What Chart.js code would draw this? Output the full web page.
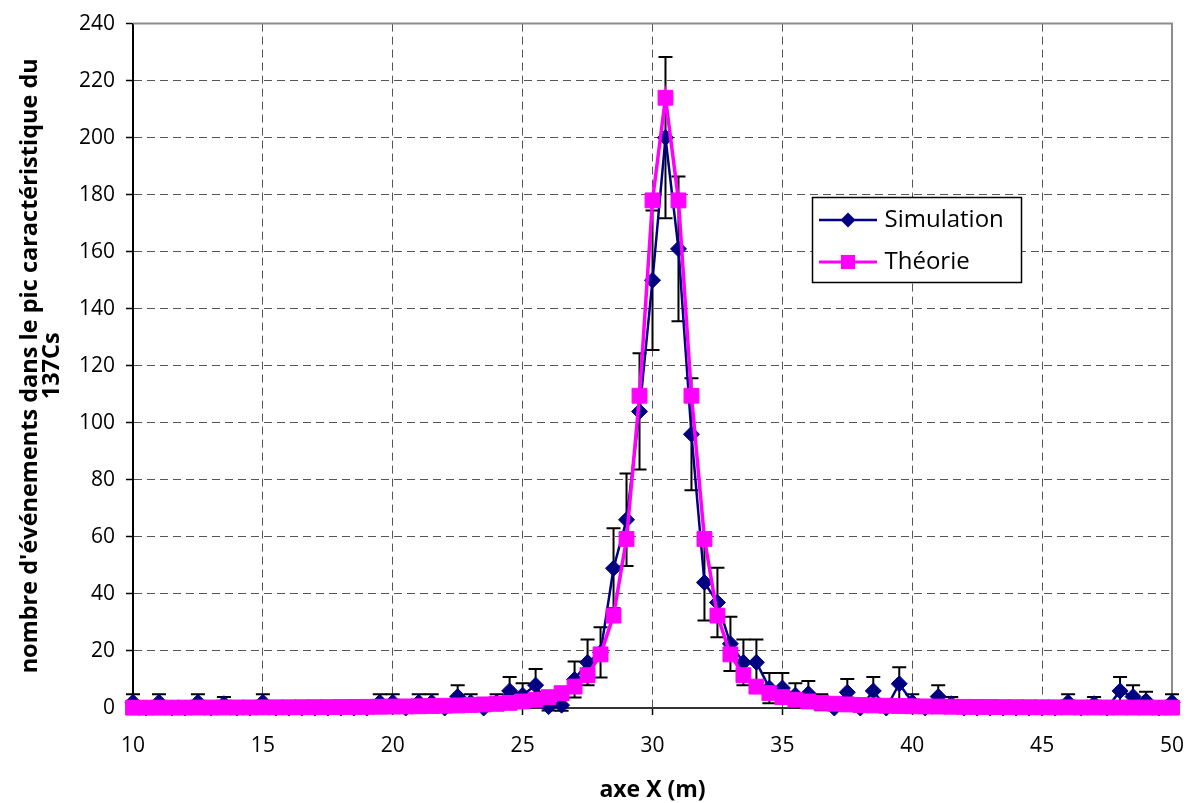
<!DOCTYPE html>
<html>
<head>
<meta charset="utf-8">
<script src="https://cdn.jsdelivr.net/npm/chart.js@4.4.1/dist/chart.umd.min.js"></script>
<style>
    html, body { margin: 0; padding: 0; background: #fff; }
    #wrap { width: 1190px; height: 803px; }
</style>
</head>
<body>
<div id="wrap"><canvas id="profil-chart" width="1190" height="803"></canvas></div>
<script>
// position le long de l'axe X (m)
const positions = [
    10, 10.5, 11, 11.5, 12, 12.5, 13, 13.5, 14, 14.5,
    15, 15.5, 16, 16.5, 17, 17.5, 18, 18.5, 19, 19.5,
    20, 20.5, 21, 21.5, 22, 22.5, 23, 23.5, 24, 24.5,
    25, 25.5, 26, 26.5, 27, 27.5, 28, 28.5, 29, 29.5,
    30, 30.5, 31,
    31.5, 32, 32.5, 33, 33.5, 34, 34.5, 35, 35.5, 36,
    36.5, 37, 37.5, 38, 38.5, 39, 39.5, 40, 40.5, 41,
    41.5, 42, 42.5, 43, 43.5, 44, 44.5, 45, 45.5, 46,
    46.5, 47, 47.5, 48, 48.5, 49, 49.5, 50
];

const simulation = [
    2, 0, 2, 0, 0, 2, 0, 1.5, 0, 0,
    2, 0, 0, 0, 0, 0, 0, 0, 0, 2,
    2, 0, 2, 2, 0, 4, 2, 0, 2, 6,
    4.5, 8, 0.5, 1, 10, 16, 19.5, 49, 66, 104,
    150, 200, 161,
    96, 44, 37, 22.5, 16, 16, 7, 7, 4.5, 5,
    2, 0, 5.5, 0, 6, 0, 8.5, 2, 0, 4,
    1.5, 0, 0, 0, 0, 0, 0, 0, 0, 2,
    0, 1.5, 0, 6, 4, 2.5, 0, 2
];

// barres d'erreur de la simulation (demi-largeur)
const simulationErr = [
    2.8, 0, 2.8, 0, 0, 2.8, 0, 2.4, 0, 0,
    2.8, 0, 0, 0, 0, 0, 0, 0, 0, 2.8,
    2.8, 0, 2.8, 2.8, 0, 4, 2.8, 0, 2.8, 4.9,
    4.2, 5.7, 1.4, 2, 6.3, 8, 8.8, 14, 16.2, 20.4,
    24.5, 28.3, 25.4,
    19.6, 13.3, 12.2, 9.5, 8, 8, 5.3, 5.3, 4.2, 4.5,
    2.8, 0, 4.7, 0, 4.9, 0, 5.8, 2.8, 0, 4,
    2.4, 0, 0, 0, 0, 0, 0, 0, 0, 2.8,
    0, 2.4, 0, 4.9, 4, 3.2, 0, 2.8
];

const theorie = [
    0.12, 0.12, 0.13, 0.14, 0.15, 0.16, 0.17, 0.18, 0.19, 0.2,
    0.22, 0.23, 0.25, 0.27, 0.29, 0.31, 0.34, 0.37, 0.4, 0.45,
    0.5, 0.55, 0.6, 0.7, 0.8, 0.9, 1.05, 1.25, 1.5, 1.8,
    2.3, 2.9, 3.8, 5.2, 7.5, 11.5, 18.8, 32.4, 59.3, 109.5,
    178, 214, 178,
    109.5, 59.3, 32.4, 18.8, 11.5, 7.5, 5.2, 3.8, 2.9, 2.3,
    1.8, 1.5, 1.25, 1.05, 0.9, 0.8, 0.7, 0.6, 0.55, 0.5,
    0.45, 0.4, 0.37, 0.34, 0.31, 0.29, 0.27, 0.25, 0.23, 0.22,
    0.2, 0.19, 0.18, 0.17, 0.16, 0.15, 0.14, 0.13
];

const xTicks = [10, 15, 20, 25, 30, 35, 40, 45, 50];
const yTicks = [0, 20, 40, 60, 80, 100, 120, 140, 160, 180, 200, 220, 240];

const NAVY = '#000080';
const MAGENTA = '#ff00ff';
const FONT = "'Open Sans', 'Noto Sans', sans-serif";

// petite icone ligne + marqueur pour la legende
function legendIcon(color, lineWidth, pointStyle, radius) {
    const c = document.createElement('canvas');
    c.width = 58;
    c.height = 22;
    const g = c.getContext('2d');
    g.strokeStyle = color;
    g.lineWidth = lineWidth;
    g.beginPath();
    g.moveTo(0, 11);
    g.lineTo(58, 11);
    g.stroke();
    g.fillStyle = color;
    Chart.helpers.drawPoint(g, { pointStyle, radius, borderWidth: 0, rotation: 0 }, 29, 11);
    return c;
}
const legendIcons = [
    legendIcon(NAVY, 2.5, 'rectRot', 7.5),
    legendIcon(MAGENTA, 3, 'rect', 10)
];

const plotFrame = {
    id: 'plotFrame',
    beforeDatasetsDraw(chart) {
        const { ctx, chartArea: a } = chart;
        ctx.save();
        ctx.strokeStyle = '#8c8c8c';
        ctx.lineWidth = 2;
        ctx.beginPath();
        ctx.moveTo(a.left, a.top);
        ctx.lineTo(a.right, a.top);
        ctx.lineTo(a.right, a.bottom);
        ctx.stroke();
        ctx.restore();
    }
};

const errorBars = {
    id: 'errorBars',
    beforeDatasetsDraw(chart) {
        const { ctx } = chart;
        const xs = chart.scales.x;
        const ys = chart.scales.y;
        ctx.save();
        ctx.strokeStyle = '#000';
        ctx.lineWidth = 2;
        positions.forEach((pos, i) => {
            const err = simulationErr[i];
            if (!err) return;
            const px = xs.getPixelForValue(pos);
            const top = ys.getPixelForValue(simulation[i] + err);
            const bottom = ys.getPixelForValue(simulation[i] - err);
            ctx.beginPath();
            ctx.moveTo(px, top);
            ctx.lineTo(px, bottom);
            ctx.moveTo(px - 7, top);
            ctx.lineTo(px + 7, top);
            ctx.moveTo(px - 7, bottom);
            ctx.lineTo(px + 7, bottom);
            ctx.stroke();
        });
        ctx.restore();
    }
};

// cadre blanc de la legende, place dans la zone du graphe
const LEGEND_BOX = { left: 812, top: 197, width: 209, height: 85 };
const legendBox = {
    id: 'legendBox',
    afterLayout(chart) {
        const lg = chart.legend;
        lg.left = 805.5;
        lg.top = 190;
        lg.right = lg.left + 215;
        lg.bottom = lg.top + 140;
        lg.width = 215;
        lg.height = 140;
    },
    afterDraw(chart) {
        const { ctx } = chart;
        const b = LEGEND_BOX;
        ctx.save();
        ctx.fillStyle = '#fff';
        ctx.fillRect(b.left, b.top, b.width, b.height);
        ctx.strokeStyle = '#000';
        ctx.lineWidth = 1.5;
        ctx.strokeRect(b.left + 0.5, b.top + 0.5, b.width, b.height);
        ctx.restore();
        chart.legend.draw();
    }
};

function edgeGrid(first, last) {
    return (c) => (c.tick && (c.tick.value === first || c.tick.value === last)) ? 'rgba(0,0,0,0)' : '#555';
}

new Chart(document.getElementById('profil-chart'), {
    type: 'line',
    data: {
        datasets: [
            {
                label: 'Simulation',
                data: positions.map((x, i) => ({ x, y: simulation[i] })),
                borderColor: NAVY,
                backgroundColor: NAVY,
                borderWidth: 2.5,
                pointStyle: 'rectRot',
                pointRadius: 8,
                pointBorderWidth: 1,
                pointHoverRadius: 8,
                tension: 0,
                clip: false,
                order: 1
            },
            {
                label: 'Théorie',
                data: positions.map((x, i) => ({ x, y: theorie[i] })),
                borderColor: MAGENTA,
                backgroundColor: MAGENTA,
                borderWidth: 3.5,
                pointStyle: 'rect',
                pointRadius: 10.5,
                pointBorderWidth: 1,
                pointHoverRadius: 10.5,
                tension: 0,
                clip: false,
                order: 0
            }
        ]
    },
    options: {
        responsive: false,
        animation: false,
        devicePixelRatio: 1,
        layout: { padding: { top: 21, right: 18, left: 0, bottom: 0 } },
        plugins: {
            tooltip: { enabled: false },
            legend: {
                position: 'chartArea',
                align: 'start',
                labels: {
                    usePointStyle: true,
                    pointStyleWidth: 49,
                    padding: 18,
                    color: '#000',
                    font: { family: FONT, size: 24 },
                    sort: (a, b) => a.datasetIndex - b.datasetIndex,
                    generateLabels(chart) {
                        const items = Chart.defaults.plugins.legend.labels.generateLabels(chart);
                        items.forEach((it) => { it.pointStyle = legendIcons[it.datasetIndex]; });
                        return items;
                    }
                }
            }
        },
        scales: {
            x: {
                type: 'linear',
                min: 10,
                max: 50,
                afterBuildTicks: (s) => { s.ticks = xTicks.map((v) => ({ value: v })); },
                afterFit: (s) => {
                    s.height = 95;
                    // le décalage des libellés ne doit pas rétrécir la zone du graphe
                    s.paddingLeft = 0;
                    s.paddingRight = 12;
                },
                ticks: { color: '#000', padding: 18, font: { family: FONT, size: 21 } },
                grid: { color: edgeGrid(10, 50), tickColor: '#000', tickLength: 7, lineWidth: 1, tickWidth: 1.5 },
                border: { color: '#333', width: 2, dash: [8, 5] },
                title: {
                    display: true,
                    text: 'axe X (m)',
                    color: '#000',
                    padding: { top: 0, bottom: -1 },
                    font: { family: FONT, size: 23, weight: 'bold' }
                }
            },
            y: {
                min: 0,
                max: 240,
                afterBuildTicks: (s) => { s.ticks = yTicks.map((v) => ({ value: v })); },
                afterFit: (s) => { s.width = 133; },
                ticks: { color: '#000', padding: 11, font: { family: FONT, size: 21 } },
                grid: { color: edgeGrid(0, 240), tickColor: '#000', tickLength: 7, lineWidth: 1, tickWidth: 1.5 },
                border: { color: '#000', width: 2, dash: [8, 5] },
                title: {
                    display: true,
                    text: ["nombre d'événements dans le pic caractéristique du", '137Cs'],
                    color: '#000',
                    padding: { top: 19, bottom: 0 },
                    font: { family: FONT, size: 23.5, weight: 'bold', lineHeight: 0.95 }
                }
            }
        }
    },
    plugins: [plotFrame, errorBars, legendBox]
});
</script>
</body>
</html>
